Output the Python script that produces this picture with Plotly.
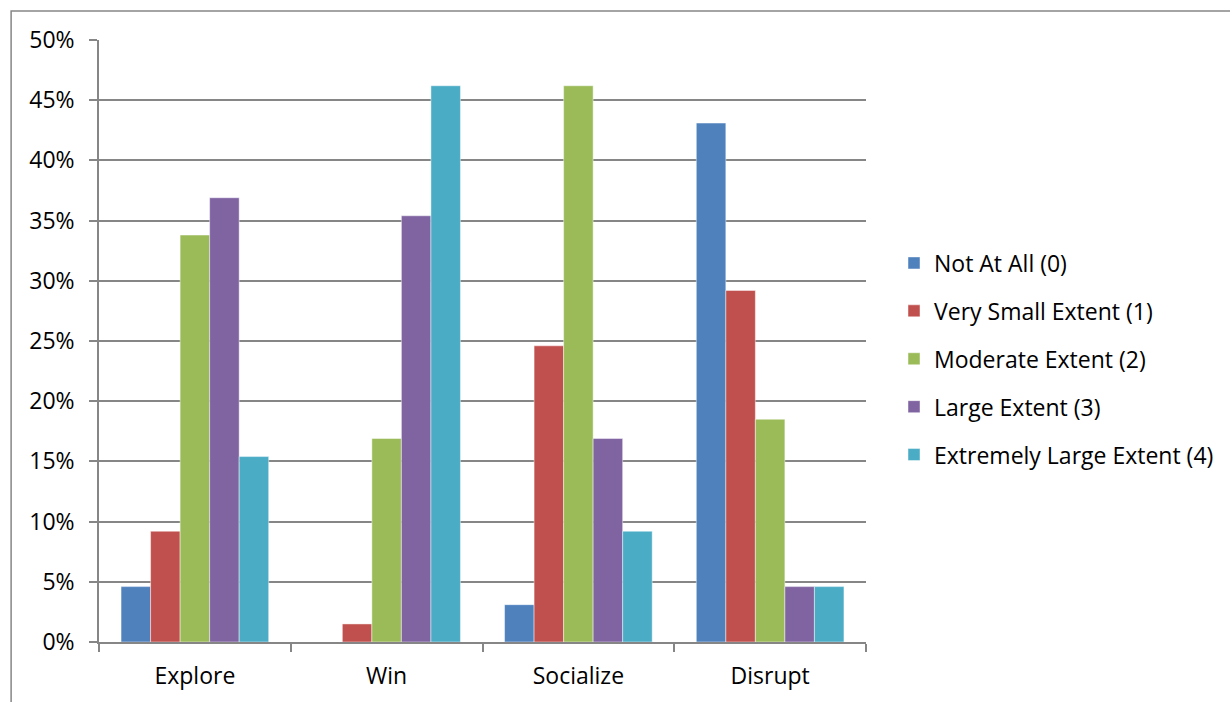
import plotly.graph_objects as go

categories = ["Explore", "Win", "Socialize", "Disrupt"]
series_names = [
    "Not At All (0)",
    "Very Small Extent (1)",
    "Moderate Extent (2)",
    "Large Extent (3)",
    "Extremely Large Extent (4)",
]
# share of respondents (%) per category for each response level
not_at_all = [4.6, 0.0, 3.1, 43.1]
very_small = [9.2, 1.5, 24.6, 29.2]
moderate = [33.8, 16.9, 46.2, 18.5]
large = [36.9, 35.4, 16.9, 4.6]
extremely_large = [15.4, 46.2, 9.2, 4.6]
series_values = [not_at_all, very_small, moderate, large, extremely_large]
series_colors = ["#4F81BD", "#C0504D", "#9BBB59", "#8064A2", "#4BACC6"]
y_ticks = [0, 5, 10, 15, 20, 25, 30, 35, 40, 45, 50]
y_tick_labels = [f"{v}%" for v in y_ticks]

FONT = "Open Sans"
FSIZE = 23
GRID = "#868686"

fig = go.Figure()
for name, vals, col in zip(series_names, series_values, series_colors):
    fig.add_trace(go.Bar(
        x=categories, y=vals, name=name, legendgroup=name,
        marker=dict(color=col, line=dict(color="rgba(255,255,255,0.45)", width=1)),
    ))

W, H = 1230, 702
L, R, T, B = 99, 363, 40, 60
pw, ph = W - L - R, H - T - B


def px_x(p):
    return (p - L) / pw


def px_y(p):
    return (H - B - p) / ph


fig.update_layout(
    width=W, height=H,
    margin=dict(l=L, r=R, t=T, b=B),
    paper_bgcolor="white", plot_bgcolor="white",
    font=dict(family=FONT, size=FSIZE, color="#000000"),
    barmode="group", bargap=0.23, bargroupgap=0,
    showlegend=True,
    legend=dict(
        x=px_x(894), xanchor="left", y=px_y(359), yanchor="middle",
        font=dict(family=FONT, size=FSIZE), tracegroupgap=15,
        itemwidth=30, bgcolor="rgba(0,0,0,0)",
    ),
    xaxis=dict(
        type="category", showline=True, linecolor=GRID, linewidth=1.5,
        ticks="outside", tickson="boundaries", ticklen=8, tickcolor=GRID,
        tickwidth=1.5, showgrid=False, ticklabelstandoff=13,
        tickfont=dict(family=FONT, size=FSIZE),
    ),
    yaxis=dict(
        range=[0, 50], tickvals=y_ticks, ticktext=y_tick_labels,
        showline=True, linecolor=GRID, linewidth=1.5,
        ticks="outside", ticklen=8, tickcolor=GRID, tickwidth=1.5,
        showgrid=True, gridcolor=GRID, gridwidth=1.5, zeroline=False,
        ticklabelstandoff=10, tickfont=dict(family=FONT, size=FSIZE),
    ),
    shapes=[dict(
        type="rect", xref="paper", yref="paper", layer="below",
        x0=px_x(11), x1=px_x(1300), y0=px_y(760), y1=px_y(11),
        line=dict(color=GRID, width=1.5), fillcolor="rgba(0,0,0,0)",
    )],
)

fig.write_html("out.html")
